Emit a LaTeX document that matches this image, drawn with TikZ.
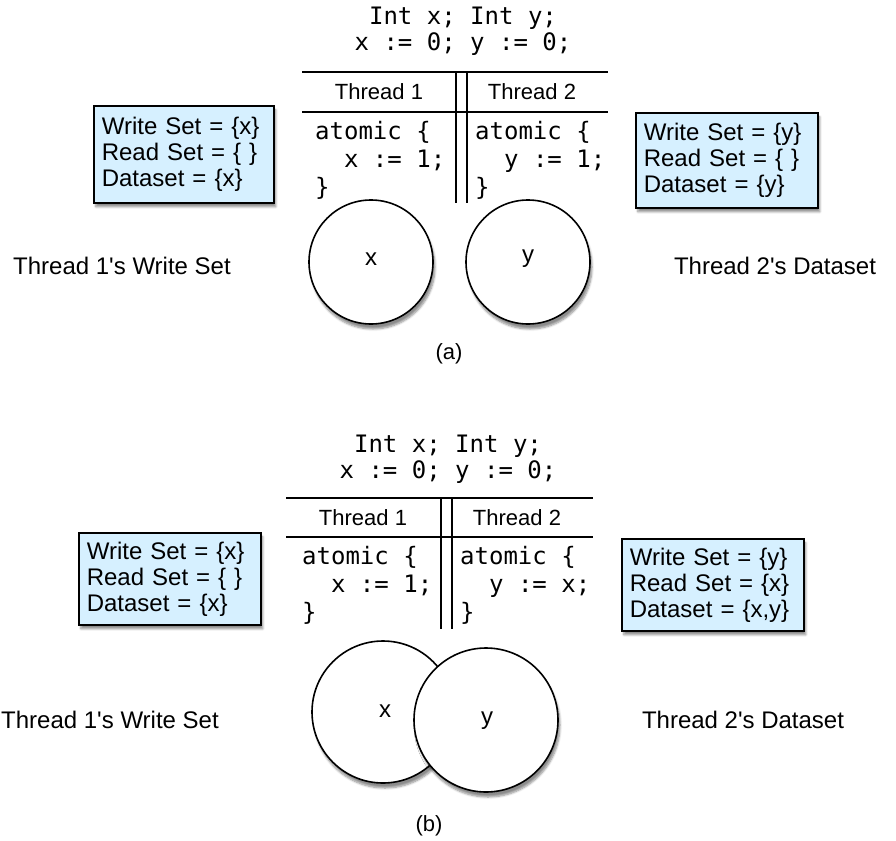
\documentclass[tikz,border=0pt]{standalone}
\usepackage{fontspec}
\setmainfont{Liberation Sans}[Ligatures=TeXOff]
\newfontfamily\monof{DejaVu Sans Mono}
\usetikzlibrary{shadows,shadows.blur}
\definecolor{setblue}{RGB}{214,240,255}
\begin{document}
\begin{tikzpicture}[x=1pt,y=-1pt,
  setbox/.style={draw=black, line width=1.6pt, fill=setblue, align=left, anchor=north west,
    inner xsep=8pt, inner ysep=0pt, font=\fontsize{24}{26}\selectfont,
    blur shadow={shadow xshift=2pt, shadow yshift=-4pt, shadow blur steps=6, shadow opacity=45}},
  circ/.style={circle, draw=black, line width=1.6pt, fill=white, inner sep=0pt,
    blur shadow={shadow xshift=2pt, shadow yshift=-5pt, shadow blur steps=6, shadow opacity=45}},
  lbl/.style={font=\fontsize{24}{28}\selectfont, inner sep=0pt},
  captxt/.style={font=\fontsize{22}{26}\selectfont, inner sep=0pt},
  code/.style={font=\monof\fontsize{24}{28}\selectfont, inner sep=0pt, align=left},
  decl/.style={font=\monof\fontsize{24}{26}\selectfont, inner sep=0pt, align=center},
  hdr/.style={font=\fontsize{22}{26}\selectfont, inner sep=0pt},
  rule/.style={line width=1.6pt}
]
\useasboundingbox (0,0) rectangle (896,840);

% ---------- (a) ----------
\node[decl] (decla) at (463,31) {Int x; Int y;\\x := 0; y := 0;};
\draw[rule] (302,72) -- (608,72);
\draw[rule] (302,112) -- (608,112);
\draw[rule] (456,72) -- (456,203);
\draw[rule] (467,72) -- (467,203);
\node[hdr] (t1a) at (379,92) {Thread 1};
\node[hdr] (t2a) at (532,92) {Thread 2};
\node[code, anchor=north west] (c1a) at (315,121) {atomic \{\\\ \ x := 1;\\\}};
\node[code, anchor=north west] (c2a) at (475,121) {atomic \{\\\ \ y := 1;\\\}};

\node[setbox, text width=164pt, minimum height=97pt] (ws1a) at (93,105)
  {Write Set = \{x\}\\Read Set = \{ \}\\Dataset = \{x\}};
\node[setbox, text width=166pt, minimum height=95pt] (ws2a) at (635,112)
  {Write Set = \{y\}\\Read Set = \{ \}\\Dataset = \{y\}};

\node[circ, minimum size=124pt] (cxa) at (371,262) {};
\node[lbl] at (371,259) {x};
\node[circ, minimum size=124pt] (cya) at (528,262) {};
\node[lbl] at (528,259) {y};

\node[lbl] (la1) at (122,266) {Thread 1's Write Set};
\node[lbl] (la2) at (775,266) {Thread 2's Dataset};
\node[captxt] (capa) at (449,354) {(a)};

% ---------- (b) ----------
\node[decl] (declb) at (448,459) {Int x; Int y;\\x := 0; y := 0;};
\draw[rule] (286,498) -- (593,498);
\draw[rule] (286,537) -- (593,537);
\draw[rule] (441,498) -- (441,629);
\draw[rule] (452,498) -- (452,629);
\node[hdr] (t1b) at (363,518) {Thread 1};
\node[hdr] (t2b) at (517,518) {Thread 2};
\node[code, anchor=north west] (c1b) at (302,546) {atomic \{\\\ \ x := 1;\\\}};
\node[code, anchor=north west] (c2b) at (460,546) {atomic \{\\\ \ y := x;\\\}};

\node[setbox, text width=166pt, minimum height=92pt] (ws1b) at (78,532)
  {Write Set = \{x\}\\Read Set = \{ \}\\Dataset = \{x\}};
\node[setbox, text width=166pt, minimum height=92pt] (ws2b) at (621,538)
  {Write Set = \{y\}\\Read Set = \{x\}\\Dataset = \{x,y\}};

\node[circ, minimum size=142pt] (cxb) at (383,712) {};
\node[lbl] at (385,711) {x};
\node[circ, minimum size=144pt] (cyb) at (486,720) {};
\node[lbl] at (487,721) {y};

\node[lbl] (lb1) at (110,720) {Thread 1's Write Set};
\node[lbl] (lb2) at (743,720) {Thread 2's Dataset};
\node[captxt] (capb) at (429,826) {(b)};
\end{tikzpicture}
\end{document}
